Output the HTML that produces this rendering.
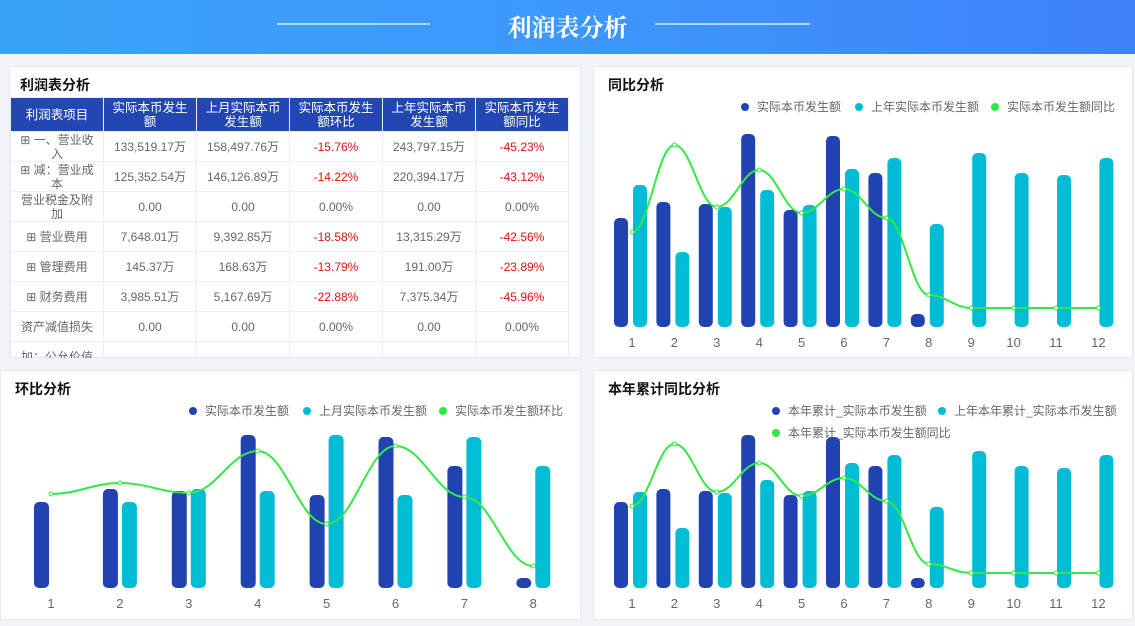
<!DOCTYPE html>
<html><head><meta charset="utf-8"><style>
*{margin:0;padding:0;box-sizing:border-box}
body{width:1135px;height:626px;background:#f1f4f9;position:relative;overflow:hidden;font-family:"Liberation Sans","Noto Sans CJK SC",sans-serif}
.hdr{position:absolute;left:0;top:0;width:1135px;height:54px;background:linear-gradient(90deg,#38a2f8 0%,#3d98fb 50%,#3f80fb 100%)}
.hdr .t{position:absolute;left:0;width:1135px;top:8px;text-align:center;color:#fff;font:bold 24px "Liberation Serif","Noto Serif CJK SC",serif}
.ln{position:absolute;top:23px;height:2px;background:rgba(255,255,255,.6)}
.pn{position:absolute;background:#fff;border:1px solid #e6e9ef}
.pt{position:absolute;left:10px;top:8px;font-weight:bold;font-size:14px;color:#111}
table{position:absolute;left:10px;top:97px;border-collapse:collapse;font-size:12px;color:#666}
td{width:93px;height:30px;border:1px solid #eee;text-align:center;line-height:14px;padding:0}
th{height:34px;background:#2246b4;color:#fff;font-weight:normal;border:1px solid #e9eefc;line-height:14px;font-size:12.5px}
.r{color:#e01010}
.wrap{position:absolute;left:10px;top:97px;width:562px;height:261px;overflow:hidden}
svg{position:absolute;left:0;top:0}
</style></head><body>
<div class="hdr"><div class="ln" style="left:277px;width:153px"></div><div class="ln" style="left:655px;width:155px"></div><div class="t">利润表分析</div></div>
<div class="pn" style="left:9px;top:66px;width:572px;height:292px"><div class="pt">利润表分析</div></div>
<div class="pn" style="left:593px;top:66px;width:540px;height:292px"><div class="pt" style="left:14px">同比分析</div></div>
<div class="pn" style="left:0px;top:370px;width:581px;height:250px"><div class="pt" style="left:14px">环比分析</div></div>
<div class="pn" style="left:593px;top:370px;width:540px;height:250px"><div class="pt" style="left:14px">本年累计同比分析</div></div>
<div class="wrap"><table style="left:0;top:0">
<tr><th>利润表项目</th><th>实际本币发生<br>额</th><th>上月实际本币<br>发生额</th><th>实际本币发生<br>额环比</th><th>上年实际本币<br>发生额</th><th>实际本币发生<br>额同比</th></tr>
<tr><td>⊞ 一、营业收<br>入</td><td>133,519.17万</td><td>158,497.76万</td><td class="r">-15.76%</td><td>243,797.15万</td><td class="r">-45.23%</td></tr>
<tr><td>⊞ 减：营业成<br>本</td><td>125,352.54万</td><td>146,126.89万</td><td class="r">-14.22%</td><td>220,394.17万</td><td class="r">-43.12%</td></tr>
<tr><td>营业税金及附<br>加</td><td>0.00</td><td>0.00</td><td>0.00%</td><td>0.00</td><td>0.00%</td></tr>
<tr><td>⊞ 营业费用</td><td>7,648.01万</td><td>9,392.85万</td><td class="r">-18.58%</td><td>13,315.29万</td><td class="r">-42.56%</td></tr>
<tr><td>⊞ 管理费用</td><td>145.37万</td><td>168.63万</td><td class="r">-13.79%</td><td>191.00万</td><td class="r">-23.89%</td></tr>
<tr><td>⊞ 财务费用</td><td>3,985.51万</td><td>5,167.69万</td><td class="r">-22.88%</td><td>7,375.34万</td><td class="r">-45.96%</td></tr>
<tr><td>资产减值损失</td><td>0.00</td><td>0.00</td><td>0.00%</td><td>0.00</td><td>0.00%</td></tr>
<tr><td>加：公允价值</td><td></td><td></td><td></td><td></td><td></td></tr>
</table></div>
<svg id="s" width="1135" height="626"></svg>
<script>
var D='#2143b1',C='#00bcd4',G='#33e845',out='';
function chart(x0,dx,base,dark,cyan,line,doff,coff,bw){
 for(var i=0;i<line.length;i++){var c=x0+i*dx;
  if(dark[i]!=null)out+='<rect x="'+(c+doff)+'" y="'+dark[i]+'" width="'+bw+'" height="'+(base-dark[i])+'" rx="5" fill="'+D+'"/>';
  if(cyan[i]!=null)out+='<rect x="'+(c+coff)+'" y="'+cyan[i]+'" width="'+bw+'" height="'+(base-cyan[i])+'" rx="5" fill="'+C+'"/>';
  out+='<text x="'+c+'" y="'+(base+20)+'" font-size="13" fill="#666" text-anchor="middle">'+(i+1)+'</text>';}
 var p='M'+x0+','+line[0];
 for(var i=1;i<line.length;i++){var a=x0+(i-1)*dx,b=x0+i*dx;p+=' C'+(a+dx*0.4)+','+line[i-1]+' '+(b-dx*0.4)+','+line[i]+' '+b+','+line[i];}
 out+='<path d="'+p+'" fill="none" stroke="'+G+'" stroke-width="2"/>';
 for(var i=0;i<line.length;i++)out+='<circle cx="'+(x0+i*dx)+'" cy="'+line[i]+'" r="2" fill="#fff" stroke="'+G+'"/>';
}
function leg(x,y,col,t){out+='<circle cx="'+x+'" cy="'+y+'" r="4" fill="'+col+'"/><text x="'+(x+12)+'" y="'+(y+4)+'" font-size="12" fill="#666">'+t+'</text>';}
chart(632,42.4,327,[218,202,204,134,210,136,173,314],[185,252,207,190,205,169,158,224,153,173,175,158],[232,145,207,170,213,189,218,295,308,308,308,308],-18,1,14);
chart(51,68.9,588,[502,489,491,435,495,437,466,578],[null,502,489,491,435,495,437,466],[494,483,493,451,524,446,497,566],-17,2,15);
chart(632,42.4,588,[502,489,491,435,495,437,466,578],[492,528,493,480,491,463,455,507,451,466,468,455],[506,444,492,463,496,478,501,564,573,573,573,573],-18,1,14);
leg(745,107,D,'实际本币发生额');leg(859,107,C,'上年实际本币发生额');leg(995,107,G,'实际本币发生额同比');
leg(193,411,D,'实际本币发生额');leg(307,411,C,'上月实际本币发生额');leg(443,411,G,'实际本币发生额环比');
leg(776,411,D,'本年累计_实际本币发生额');leg(942,411,C,'上年本年累计_实际本币发生额');leg(776,433,G,'本年累计_实际本币发生额同比');
document.getElementById('s').innerHTML=out;
</script>
</body></html>
